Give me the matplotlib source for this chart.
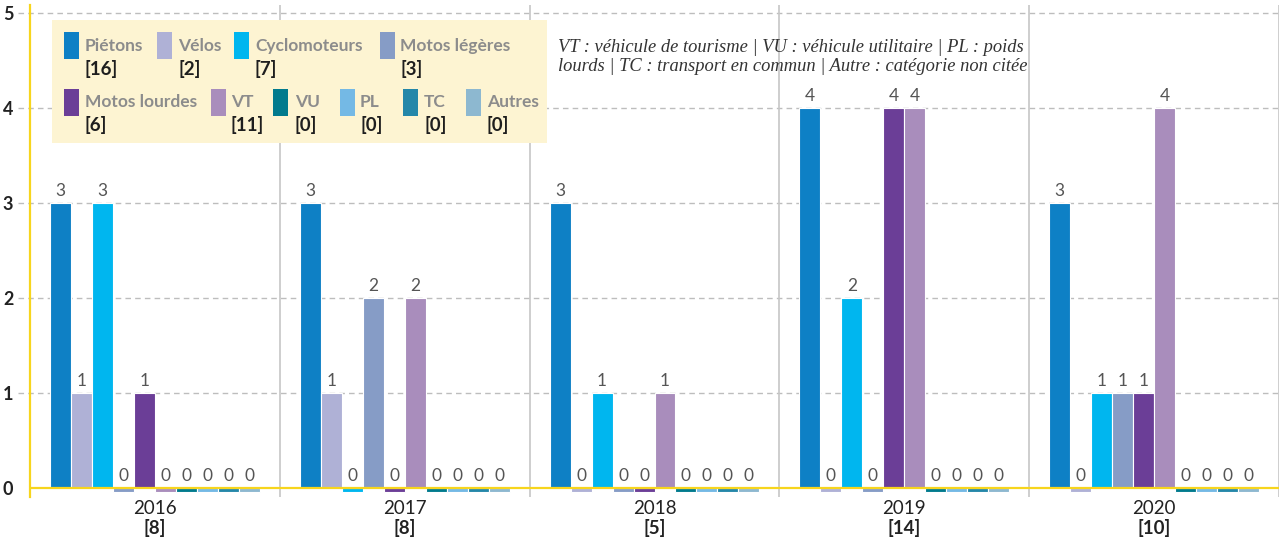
import matplotlib
matplotlib.use("Agg")
import matplotlib.pyplot as plt
import matplotlib.transforms as mtransforms
from matplotlib.patches import Rectangle
import numpy as np

# ---------------- data ----------------
years = ["2016", "2017", "2018", "2019", "2020"]
year_totals = ["[8]", "[8]", "[5]", "[14]", "[10]"]
categories = ["Piétons", "Vélos", "Cyclomoteurs", "Motos légères", "Motos lourdes",
              "VT", "VU", "PL", "TC", "Autres"]
category_totals = ["[16]", "[2]", "[7]", "[3]", "[6]", "[11]", "[0]", "[0]", "[0]", "[0]"]
pietons = [3, 3, 3, 4, 3]
velos = [1, 1, 0, 0, 0]
cyclomoteurs = [3, 0, 1, 2, 1]
motos_legeres = [0, 2, 0, 0, 1]
motos_lourdes = [1, 0, 0, 4, 1]
vt = [0, 2, 1, 4, 4]
vu = [0, 0, 0, 0, 0]
pl = [0, 0, 0, 0, 0]
tc = [0, 0, 0, 0, 0]
autres = [0, 0, 0, 0, 0]
series = [pietons, velos, cyclomoteurs, motos_legeres, motos_lourdes, vt, vu, pl, tc, autres]
note = ("VT : véhicule de tourisme | VU : véhicule utilitaire | PL : poids\n"
        "lourds | TC : transport en commun | Autre : catégorie non citée")

# ---------------- style ----------------
colors = ["#0E80C5", "#AFB1D6", "#00B6EF", "#869CC6", "#6B3E97",
          "#A98DBC", "#017A8D", "#74B9E5", "#2487A9", "#8DB8D0"]
yellow = "#F7D51D"
sep_gray = "#C6C6C6"
grid_gray = "#BDBDBD"
FONT = ["Lato", "DejaVu Sans"]

W, H = 1282, 541
fig = plt.figure(figsize=(W / 100, H / 100), dpi=100)
fig.patch.set_facecolor("white")

def fx(px):
    return px / W

def fy(py):
    return 1 - py / H

ax = fig.add_axes([fx(30), 44 / H, 1249 / W, 492 / H])
ax.set_xlim(-0.5, len(years) - 0.5)
ax.set_ylim(-0.095, 5.084)

bw = 0.084
x = np.arange(len(years))
n = len(series)
stub = 0.042
for i, (vals, c) in enumerate(zip(series, colors)):
    offs = x + (i - (n - 1) / 2) * bw
    heights = [v if v > 0 else -stub for v in vals]
    ax.bar(offs, heights, width=bw, color=c, edgecolor="white", linewidth=0.8, zorder=3)
    for xo, v in zip(offs, vals):
        ax.annotate(str(v), xy=(xo, v), xytext=(0, 3), textcoords="offset points",
                    ha="center", va="bottom", fontsize=12.5, color="#555555",
                    family=FONT, zorder=4)

# baseline
ax.axhline(0, color=yellow, lw=1.6, zorder=5)

# gridlines (dashed) extending a little left of the axis
blend = mtransforms.blended_transform_factory(ax.transAxes, ax.transData)
for yv in range(1, 6):
    ax.plot([-12 / 1249, 1], [yv, yv], transform=blend, ls=(0, (4, 3)),
            color=grid_gray, lw=1, clip_on=False, zorder=1)

# separators
for xs in np.arange(0.5, len(years), 1.0):
    ax.axvline(xs, color=sep_gray, lw=1.2, zorder=1)

# spines
for s in ["top", "right", "bottom"]:
    ax.spines[s].set_visible(False)
ax.spines["left"].set_color(yellow)
ax.spines["left"].set_linewidth(1.6)
ax.spines["left"].set_zorder(6)

ax.set_yticks(range(0, 6))
ax.set_yticklabels([str(v) for v in range(0, 6)], fontsize=13, fontweight="bold",
                   family=FONT, color="#222222")
ax.tick_params(axis="y", length=0, pad=12)
ax.set_xticks([])

bx = mtransforms.blended_transform_factory(ax.transData, ax.transAxes)
for xi, yr, tot in zip(x, years, year_totals):
    ax.annotate(yr, xy=(xi, 0), xycoords=bx, xytext=(0, -8.5), textcoords="offset points",
                ha="center", va="center", fontsize=13.5, family=FONT, color="#222222")
    ax.annotate(tot, xy=(xi, 0), xycoords=bx, xytext=(0, -22.5), textcoords="offset points",
                ha="center", va="center", fontsize=13.5, fontweight="bold", family=FONT,
                color="#222222")

# ---------------- legend box (manual) ----------------
fig.add_artist(Rectangle((fx(52), fy(143)), fx(547) - fx(52), fy(20) - fy(143),
                         transform=fig.transFigure, facecolor="#FDF4D2",
                         edgecolor="none", zorder=5))
patch_x = [64, 157, 234, 380, 64, 211, 273, 340, 403, 466]
text_x = [85, 178, 255, 400, 85, 231, 295, 360, 424, 487]
rows = [0, 0, 0, 0, 1, 1, 1, 1, 1, 1]
row_patch = [(32, 59), (89, 116)]
row_label = [46, 102]
row_count = [69, 125]
for k in range(n):
    r = rows[k]
    y0, y1 = row_patch[r]
    fig.add_artist(Rectangle((fx(patch_x[k]), fy(y1)), fx(15), (y1 - y0) / H,
                             transform=fig.transFigure, facecolor=colors[k],
                             edgecolor="none", zorder=6))
    fig.text(fx(text_x[k]), fy(row_label[r]), categories[k], ha="left", va="center",
             fontsize=12.5, fontweight="bold", color="#8C8C8C", family=FONT, zorder=6)
    fig.text(fx(text_x[k]), fy(row_count[r]), category_totals[k], ha="left", va="center",
             fontsize=13.5, fontweight="bold", color="#1E1E1E", family=FONT, zorder=6)

fig.text(fx(558), fy(57), note, ha="left", va="center", fontsize=13.3, style="italic",
         family=["Liberation Serif", "DejaVu Serif"], color="#333333", linespacing=1.15,
         zorder=6)

fig.savefig("out.png", dpi=100, facecolor="white")
